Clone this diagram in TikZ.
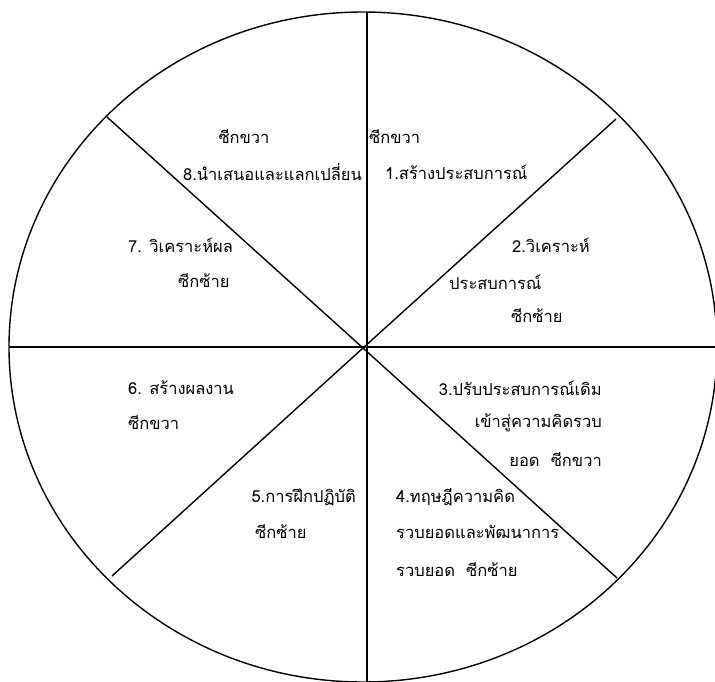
\documentclass[tikz,border=0pt]{standalone}
\usepackage{fontspec}
\usepackage{tikz}
\usetikzlibrary{positioning}
\newfontfamily\thaifont[Script=Thai]{Loma}
\tikzset{
  spoke/.style={line width=1.4pt, draw=black},
  rim/.style={line width=1.4pt, draw=black},
  lbl/.style={inner sep=0pt, font=\thaifont\fontsize{16.5}{19}\selectfont},
}

\begin{document}
\begin{tikzpicture}[x=1pt, y=-1pt]
  \useasboundingbox (0,0) rectangle (715,681);
  \clip (0,0) rectangle (715,681);
  % rim and spokes
  \draw[rim] (363,347) ellipse [x radius=354, y radius=335];
  \coordinate (O) at (363,348);
  \coordinate (top) at (367,12);
  \coordinate (bot) at (367,685);
  \coordinate (west) at (9,347);
  \coordinate (east) at (720,347);
  \coordinate (nw) at (107,117);
  \coordinate (ne) at (616,119);
  \coordinate (sw) at (112,576);
  \coordinate (se) at (617,578);
  \draw[spoke] (top) -- (bot);
  \draw[spoke] (west) -- (east);
  \draw[spoke] (nw) -- (O) -- (se);
  \draw[spoke] (ne) -- (O) -- (sw);

  % sector 8 / sector 1
  \node[lbl] (s8a) at (244,137) {ซีกขวา};
  \node[lbl, anchor=east] (s8b) at (362,172) {8.นำเสนอและแลกเปลี่ยน};
  \node[lbl, anchor=west] (s1a) at (369,137) {ซีกขวา};
  \node[lbl, anchor=west] (s1b) at (385,172) {1.สร้างประสบการณ์};
  % sector 7 / sector 2
  \node[lbl, anchor=west] (s7a) at (128,245) {7. วิเคราะห์ผล};
  \node[lbl, anchor=west] (s7b) at (178,281) {ซีกซ้าย};
  \node[lbl, anchor=east] (s2a) at (590,245) {2.วิเคราะห์};
  \node[lbl, anchor=west] (s2b) at (449,282) {ประสบการณ์};
  \node[lbl, anchor=west] (s2c) at (511,316) {ซีกซ้าย};
  % sector 6 / sector 3
  \node[lbl, anchor=west] (s6a) at (128,388) {6. สร้างผลงาน};
  \node[lbl, anchor=west] (s6b) at (128,423) {ซีกขวา};
  \node[lbl, anchor=east] (s3a) at (602,388) {3.ปรับประสบการณ์เดิม};
  \node[lbl, anchor=east] (s3b) at (602,423) {เข้าสู่ความคิดรวบ};
  \node[lbl, anchor=east] (s3c) at (602,460) {ยอด\ \ ซีกขวา};
  % sector 5 / sector 4
  \node[lbl, anchor=east] (s5a) at (356,497) {5.การฝึกปฏิบัติ};
  \node[lbl, anchor=west] (s5b) at (255,532) {ซีกซ้าย};
  \node[lbl, anchor=west] (s4a) at (396,497) {4.ทฤษฎีความคิด};
  \node[lbl, anchor=west] (s4b) at (396,532) {รวบยอดและพัฒนาการ};
  \node[lbl, anchor=west] (s4c) at (396,570) {รวบยอด\ \ ซีกซ้าย};
\end{tikzpicture}
\end{document}
